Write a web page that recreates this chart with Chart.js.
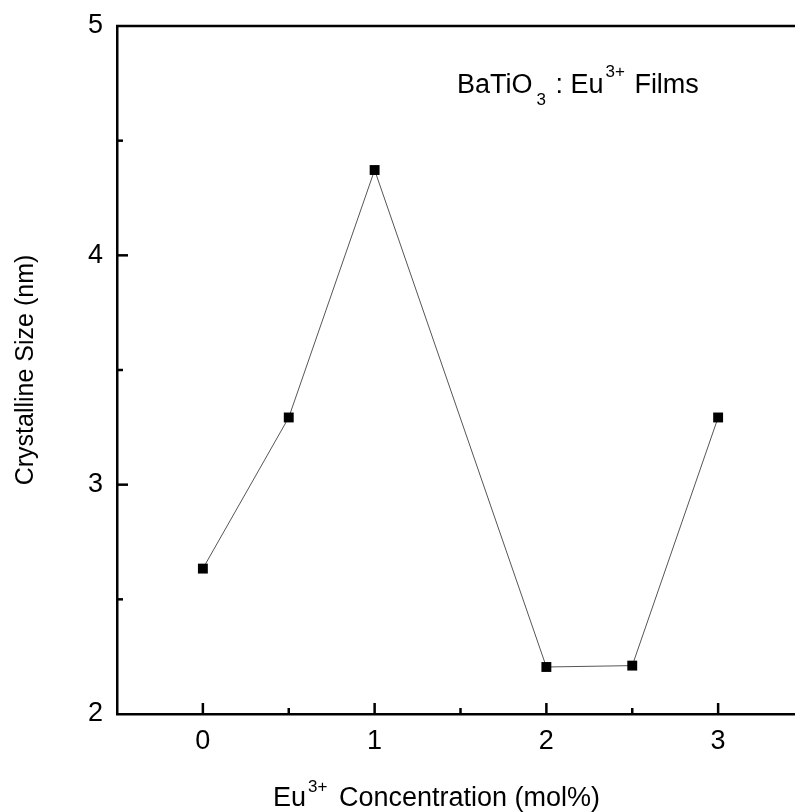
<!DOCTYPE html>
<html>
<head>
<meta charset="utf-8">
<script src="https://cdn.jsdelivr.net/npm/chart.js@4.4.1/dist/chart.umd.min.js"></script>
<style>
  html, body { margin: 0; padding: 0; background: #fff; }
  #wrap { width: 795px; height: 812px; overflow: hidden; position: relative; }
  #wrap canvas { position: absolute; left: 0; top: 0; }
</style>
</head>
<body>
<div id="wrap">
  <canvas id="chart" width="815" height="812"></canvas>
</div>
<script>
// data
const concentration = [0, 0.5, 1, 2, 2.5, 3];
const crystalSize = [2.634, 3.293, 4.372, 2.205, 2.211, 3.293];
const xRange = [-0.5, 3.5];
const yRange = [2, 5];

const FONT = '"Liberation Sans", Arial, sans-serif';

// inward ticks, top border, titles with super/subscripts
const decor = {
  id: 'decor',
  afterDraw(chart) {
    const ctx = chart.ctx;
    const area = chart.chartArea;
    const xs = chart.scales.x;
    const ys = chart.scales.y;

    ctx.save();
    ctx.strokeStyle = '#000';
    ctx.lineWidth = 2.5;

    // top frame line
    ctx.beginPath();
    ctx.moveTo(area.left - 1, area.top);
    ctx.lineTo(area.right, area.top);
    ctx.stroke();

    // x ticks pointing up
    xs.ticks.forEach(t => {
      if (t.value <= xRange[0] || t.value >= xRange[1]) return;
      const px = xs.getPixelForValue(t.value);
      const len = Number.isInteger(t.value) ? 11 : 6;
      ctx.beginPath();
      ctx.moveTo(px, area.bottom);
      ctx.lineTo(px, area.bottom - len);
      ctx.stroke();
    });

    // y ticks pointing right
    ys.ticks.forEach(t => {
      if (t.value <= yRange[0] || t.value >= yRange[1]) return;
      const py = ys.getPixelForValue(t.value);
      const len = Number.isInteger(t.value) ? 11 : 6;
      ctx.beginPath();
      ctx.moveTo(area.left, py);
      ctx.lineTo(area.left + len, py);
      ctx.stroke();
    });

    ctx.fillStyle = '#000';
    ctx.textBaseline = 'alphabetic';

    const big = '27px ' + FONT;
    const small = '17px ' + FONT;

    // x axis title: Eu^3+ Concentration (mol%)
    let x = 273;
    const base = 806;
    ctx.font = big;
    ctx.fillText('Eu', x, base);
    x += ctx.measureText('Eu').width + 2;
    ctx.font = small;
    ctx.fillText('3+', x, base - 14);
    x += ctx.measureText('3+').width + 4;
    ctx.font = big;
    ctx.fillText(' Concentration (mol%)', x, base);

    // annotation: BaTiO3 : Eu3+ Films
    let ax = 457;
    const ab = 93;
    ctx.font = big;
    ctx.fillText('BaTiO', ax, ab);
    ax += ctx.measureText('BaTiO').width + 4;
    ctx.font = small;
    ctx.fillText('3', ax, ab + 12);
    ax += ctx.measureText('3').width + 2;
    ctx.font = big;
    ctx.fillText(' : Eu', ax, ab);
    ax += ctx.measureText(' : Eu').width + 2;
    ctx.font = small;
    ctx.fillText('3+', ax, ab - 16);
    ax += ctx.measureText('3+').width + 2;
    ctx.font = big;
    ctx.fillText(' Films', ax, ab);

    ctx.restore();
  }
};

new Chart(document.getElementById('chart'), {
  type: 'line',
  data: {
    datasets: [{
      data: concentration.map((c, i) => ({ x: c, y: crystalSize[i] })),
      borderColor: '#555',
      borderWidth: 1,
      pointStyle: 'rect',
      pointRadius: 7,
      pointHoverRadius: 7,
      pointBackgroundColor: '#000',
      pointBorderColor: '#000',
      pointBorderWidth: 0,
      tension: 0
    }]
  },
  options: {
    responsive: false,
    animation: false,
    events: [],
    layout: { padding: { top: 26, right: 9, left: 0, bottom: 0 } },
    plugins: {
      legend: { display: false },
      tooltip: { enabled: false }
    },
    scales: {
      x: {
        type: 'linear',
        min: xRange[0],
        max: xRange[1],
        afterFit: s => { s.height = 98; },
        grid: { display: true, drawOnChartArea: false, drawTicks: false },
        border: { display: true, color: '#000', width: 2.5 },
        ticks: {
          stepSize: 0.5,
          padding: 11,
          color: '#000',
          font: { family: FONT, size: 27 },
          maxRotation: 0,
          autoSkip: false,
          callback: v => Number.isInteger(v) ? String(v) : ''
        }
      },
      y: {
        min: yRange[0],
        max: yRange[1],
        afterFit: s => { s.width = 117; s.paddingTop = 0; s.paddingBottom = 0; },
        grid: { display: true, drawOnChartArea: false, drawTicks: false },
        border: { display: true, color: '#000', width: 2.5 },
        title: {
          display: true,
          text: 'Crystalline Size (nm)',
          color: '#000',
          font: { family: FONT, size: 25 },
          padding: { top: 11, bottom: 0 }
        },
        ticks: {
          stepSize: 0.5,
          padding: 14,
          color: '#000',
          font: { family: FONT, size: 27 },
          autoSkip: false,
          callback: v => Number.isInteger(v) ? String(v) : ''
        }
      }
    }
  },
  plugins: [decor]
});
</script>
</body>
</html>
